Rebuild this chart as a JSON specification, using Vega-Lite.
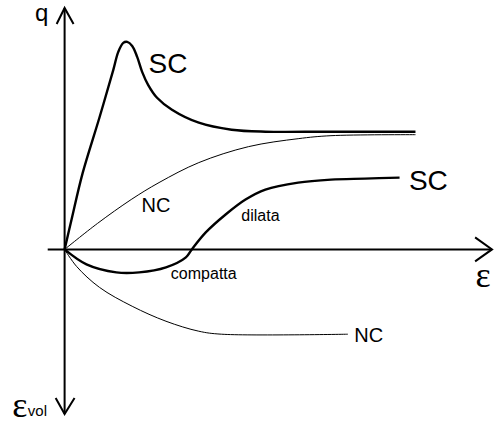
{
  "$schema": "https://vega.github.io/schema/vega-lite/v6.json",
  "width": 496,
  "height": 424,
  "padding": 0,
  "autosize": {"type": "fit", "contains": "padding"},
  "config": {"view": {"stroke": null}},
  "background": "white",
  "layer": [
    {
      "data": {"values": [
        {"part": "eps-axis", "k": 0, "x": -1.7, "y": 0},
        {"part": "eps-axis", "k": 1, "x": 43.0, "y": 0},
        {"part": "q-axis", "k": 0, "x": 0, "y": 24.2},
        {"part": "q-axis", "k": 1, "x": 0, "y": -16.5},
        {"part": "q-arrow", "k": 0, "x": -0.8, "y": 22.6},
        {"part": "q-arrow", "k": 1, "x": 0, "y": 24.2},
        {"part": "q-arrow", "k": 2, "x": 0.9, "y": 22.6},
        {"part": "eps-arrow", "k": 0, "x": 41.3, "y": 1.2},
        {"part": "eps-arrow", "k": 1, "x": 43.0, "y": 0},
        {"part": "eps-arrow", "k": 2, "x": 41.3, "y": -1.2},
        {"part": "vol-arrow", "k": 0, "x": -0.9, "y": -14.9},
        {"part": "vol-arrow", "k": 1, "x": 0, "y": -16.5},
        {"part": "vol-arrow", "k": 2, "x": 1.0, "y": -14.9}
      ]},
      "mark": {"type": "line", "color": "black", "strokeWidth": 2},
      "encoding": {
        "x": {"field": "x", "type": "quantitative", "scale": {"domain": [-6.5, 43.1], "nice": false, "zero": false}, "axis": null},
        "y": {"field": "y", "type": "quantitative", "scale": {"domain": [-17.4, 25.0], "nice": false, "zero": false}, "axis": null},
        "detail": {"field": "part"},
        "order": {"field": "k", "type": "quantitative"}
      }
    },
    {
      "data": {"values": [
        {"soil": "SC", "qty": "q", "x": 0, "y": 0},
        {"soil": "SC", "qty": "q", "x": 0.7, "y": 3.0},
        {"soil": "SC", "qty": "q", "x": 1.8, "y": 7.6},
        {"soil": "SC", "qty": "q", "x": 3.5, "y": 13.2},
        {"soil": "SC", "qty": "q", "x": 4.9, "y": 18.0},
        {"soil": "SC", "qty": "q", "x": 5.4, "y": 19.8},
        {"soil": "SC", "qty": "q", "x": 5.9, "y": 20.7},
        {"soil": "SC", "qty": "q", "x": 6.3, "y": 20.8},
        {"soil": "SC", "qty": "q", "x": 6.8, "y": 20.4},
        {"soil": "SC", "qty": "q", "x": 7.3, "y": 19.3},
        {"soil": "SC", "qty": "q", "x": 7.8, "y": 17.8},
        {"soil": "SC", "qty": "q", "x": 8.4, "y": 16.5},
        {"soil": "SC", "qty": "q", "x": 9.3, "y": 15.2},
        {"soil": "SC", "qty": "q", "x": 10.8, "y": 14.0},
        {"soil": "SC", "qty": "q", "x": 13.5, "y": 12.7},
        {"soil": "SC", "qty": "q", "x": 16.8, "y": 12.0},
        {"soil": "SC", "qty": "q", "x": 20.2, "y": 11.8},
        {"soil": "SC", "qty": "q", "x": 26.5, "y": 11.8},
        {"soil": "SC", "qty": "q", "x": 35.3, "y": 11.8},
        {"soil": "NC", "qty": "q", "x": 0, "y": 0},
        {"soil": "NC", "qty": "q", "x": 3.3, "y": 2.6},
        {"soil": "NC", "qty": "q", "x": 6.7, "y": 5.0},
        {"soil": "NC", "qty": "q", "x": 9.5, "y": 6.7},
        {"soil": "NC", "qty": "q", "x": 13.5, "y": 8.7},
        {"soil": "NC", "qty": "q", "x": 18.5, "y": 10.3},
        {"soil": "NC", "qty": "q", "x": 23.5, "y": 11.1},
        {"soil": "NC", "qty": "q", "x": 26.8, "y": 11.4},
        {"soil": "NC", "qty": "q", "x": 35.3, "y": 11.5},
        {"soil": "SC", "qty": "evol", "x": 0, "y": 0},
        {"soil": "SC", "qty": "evol", "x": 2.2, "y": -1.5},
        {"soil": "SC", "qty": "evol", "x": 5.2, "y": -2.3},
        {"soil": "SC", "qty": "evol", "x": 7.5, "y": -2.3},
        {"soil": "SC", "qty": "evol", "x": 10.2, "y": -1.8},
        {"soil": "SC", "qty": "evol", "x": 12.2, "y": -0.8},
        {"soil": "SC", "qty": "evol", "x": 12.8, "y": 0},
        {"soil": "SC", "qty": "evol", "x": 14.2, "y": 1.7},
        {"soil": "SC", "qty": "evol", "x": 16.2, "y": 3.5},
        {"soil": "SC", "qty": "evol", "x": 18.2, "y": 5.0},
        {"soil": "SC", "qty": "evol", "x": 20.2, "y": 6.0},
        {"soil": "SC", "qty": "evol", "x": 23.5, "y": 6.7},
        {"soil": "SC", "qty": "evol", "x": 26.8, "y": 7.0},
        {"soil": "SC", "qty": "evol", "x": 30.2, "y": 7.1},
        {"soil": "SC", "qty": "evol", "x": 33.7, "y": 7.2},
        {"soil": "NC", "qty": "evol", "x": 0, "y": 0},
        {"soil": "NC", "qty": "evol", "x": 1.2, "y": -1.7},
        {"soil": "NC", "qty": "evol", "x": 3.5, "y": -3.8},
        {"soil": "NC", "qty": "evol", "x": 6.8, "y": -5.7},
        {"soil": "NC", "qty": "evol", "x": 10.2, "y": -7.2},
        {"soil": "NC", "qty": "evol", "x": 13.5, "y": -8.2},
        {"soil": "NC", "qty": "evol", "x": 15.8, "y": -8.5},
        {"soil": "NC", "qty": "evol", "x": 28.5, "y": -8.5}
      ]},
      "mark": {"type": "line", "color": "black", "interpolate": "catmull-rom"},
      "encoding": {
        "x": {"field": "x", "type": "quantitative"},
        "y": {"field": "y", "type": "quantitative"},
        "detail": {"field": "qty"},
        "strokeWidth": {"field": "soil", "type": "nominal", "scale": {"domain": ["SC", "NC"], "range": [2.4, 1]}, "legend": null}
      }
    },
    {
      "data": {"values": [
        {"label": "SC", "x": 10.4, "y": 17.7},
        {"label": "SC", "x": 36.6, "y": 6.0}
      ]},
      "mark": {"type": "text", "font": "Liberation Sans", "fontSize": 28, "baseline": "alphabetic", "align": "center", "color": "black"},
      "encoding": {"x": {"field": "x", "type": "quantitative"}, "y": {"field": "y", "type": "quantitative"}, "text": {"field": "label"}}
    },
    {
      "data": {"values": [
        {"label": "NC", "x": 9.2, "y": 3.8},
        {"label": "NC", "x": 30.6, "y": -9.3}
      ]},
      "mark": {"type": "text", "font": "Liberation Sans", "fontSize": 20, "baseline": "alphabetic", "align": "center", "color": "black"},
      "encoding": {"x": {"field": "x", "type": "quantitative"}, "y": {"field": "y", "type": "quantitative"}, "text": {"field": "label"}}
    },
    {
      "data": {"values": [
        {"label": "dilata", "x": 19.7, "y": 2.8},
        {"label": "compatta", "x": 14.0, "y": -3.0}
      ]},
      "mark": {"type": "text", "font": "Liberation Sans", "fontSize": 16, "baseline": "alphabetic", "align": "center", "color": "black"},
      "encoding": {"x": {"field": "x", "type": "quantitative"}, "y": {"field": "y", "type": "quantitative"}, "text": {"field": "label"}}
    },
    {
      "data": {"values": [
        {"label": "q", "x": -2.3, "y": 22.9}
      ]},
      "mark": {"type": "text", "font": "Liberation Sans", "fontSize": 24, "baseline": "alphabetic", "align": "center", "color": "black"},
      "encoding": {"x": {"field": "x", "type": "quantitative"}, "y": {"field": "y", "type": "quantitative"}, "text": {"field": "label"}}
    },
    {
      "data": {"values": [
        {"label": "ε", "x": 42.1, "y": -3.8},
        {"label": "ε", "x": -4.5, "y": -16.8}
      ]},
      "mark": {"type": "text", "font": "Liberation Serif", "fontSize": 36, "baseline": "alphabetic", "align": "center", "color": "black"},
      "encoding": {"x": {"field": "x", "type": "quantitative"}, "y": {"field": "y", "type": "quantitative"}, "text": {"field": "label"}}
    },
    {
      "data": {"values": [
        {"label": "vol", "x": -3.7, "y": -16.7}
      ]},
      "mark": {"type": "text", "font": "Liberation Sans", "fontSize": 15, "baseline": "alphabetic", "align": "left", "color": "black"},
      "encoding": {"x": {"field": "x", "type": "quantitative"}, "y": {"field": "y", "type": "quantitative"}, "text": {"field": "label"}}
    }
  ]
}
